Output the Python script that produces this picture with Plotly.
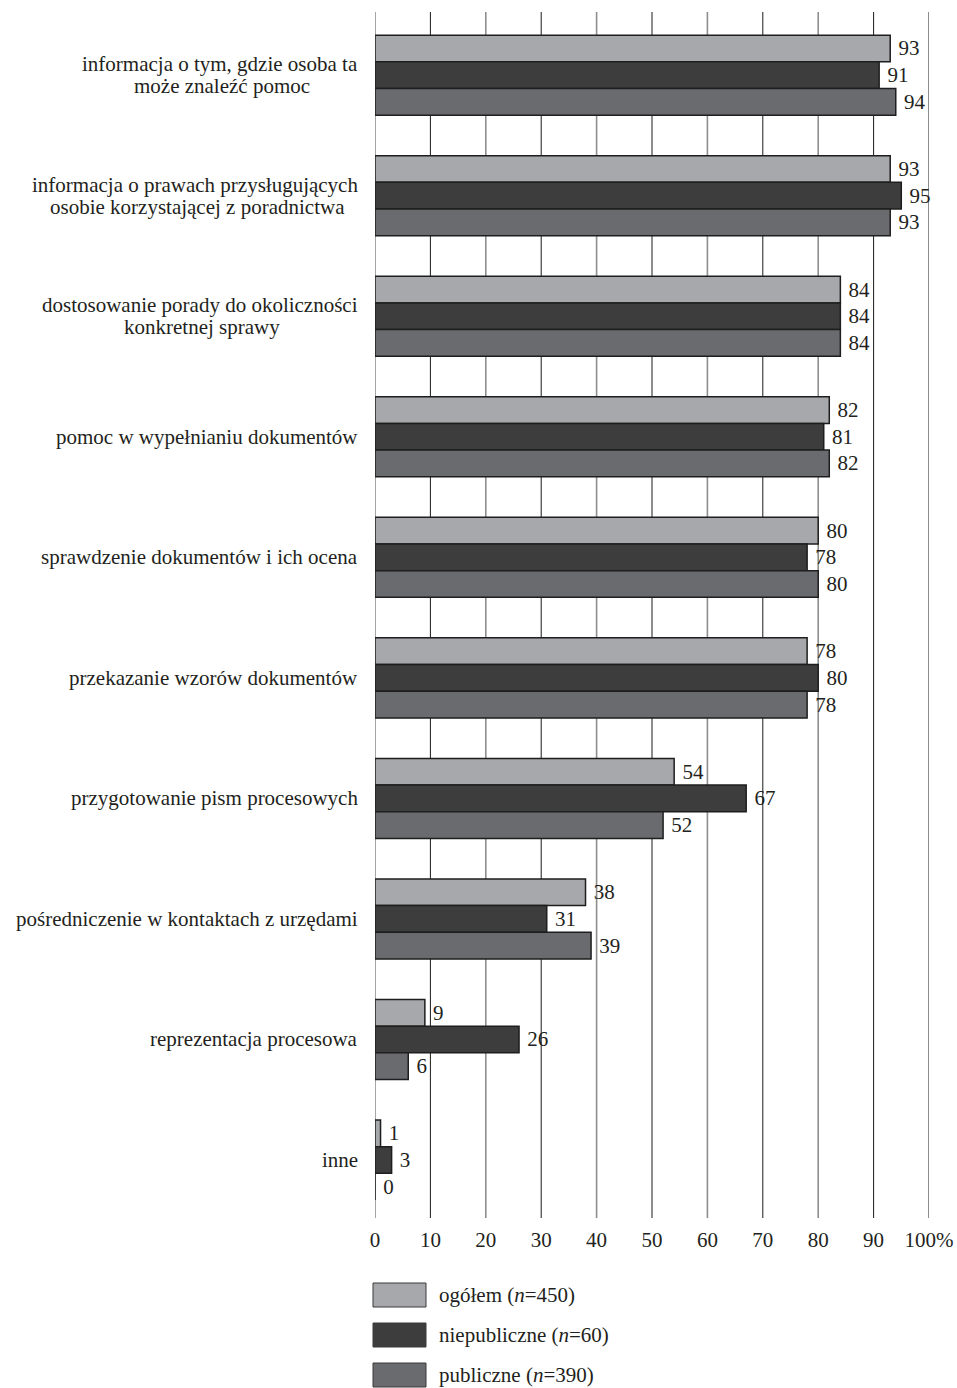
import plotly.graph_objects as go

# Survey categories (top to bottom) and shares in percent for each group of advice centres
categories = [
    "informacja o tym, gdzie osoba ta\nmoże znaleźć pomoc",
    "informacja o prawach przysługujących\nosobie korzystającej z poradnictwa",
    "dostosowanie porady do okoliczności\nkonkretnej sprawy",
    "pomoc w wypełnianiu dokumentów",
    "sprawdzenie dokumentów i ich ocena",
    "przekazanie wzorów dokumentów",
    "przygotowanie pism procesowych",
    "pośredniczenie w kontaktach z urzędami",
    "reprezentacja procesowa",
    "inne",
]
ogolem = [93, 93, 84, 82, 80, 78, 54, 38, 9, 1]
niepubliczne = [91, 95, 84, 81, 78, 80, 67, 31, 26, 3]
publiczne = [94, 93, 84, 82, 80, 78, 52, 39, 6, 0]

series_names = [
    "ogółem (<i>n</i>=450)",
    "niepubliczne (<i>n</i>=60)",
    "publiczne (<i>n</i>=390)",
]
series_values = [ogolem, niepubliczne, publiczne]
series_colors = ["#a7a8ab", "#3d3d3e", "#6a6b6f"]

tick_values = [0, 10, 20, 30, 40, 50, 60, 70, 80, 90, 100]
tick_labels = ["0", "10", "20", "30", "40", "50", "60", "70", "80", "90", "100%"]

FONT = "Liberation Serif"
FS = 21
INK = "#231f20"
OUTLINE = "#1e1e1e"

# Approximate advance widths of the serif face (units per 1000 em), used to
# centre the second line of a wrapped category label under the first one.
ADV = {
    "a": 444, "b": 500, "c": 444, "d": 500, "e": 444, "f": 333, "g": 500,
    "h": 500, "i": 278, "j": 278, "k": 500, "l": 278, "m": 778, "n": 500,
    "o": 500, "p": 500, "q": 500, "r": 333, "s": 389, "t": 278, "u": 500,
    "v": 500, "w": 722, "x": 500, "y": 500, "z": 444, " ": 250, ",": 250,
    "ą": 444, "ć": 444, "ę": 444, "ł": 278, "ń": 500, "ó": 500, "ś": 389,
    "ź": 444, "ż": 444,
}


def text_width(s, size):
    return sum(ADV.get(ch, 500) for ch in s) * size / 1000.0


fig = go.Figure()

for name, vals, color in zip(series_names, series_values, series_colors):
    fig.add_trace(
        go.Bar(
            name=name,
            y=categories,
            x=vals,
            orientation="h",
            marker=dict(color=color, line=dict(color=OUTLINE, width=1.5)),
            text=vals,
            texttemplate="\u00a0%{x}",
            textposition="outside",
            constraintext="none",
            cliponaxis=False,
            textfont=dict(family=FONT, size=FS, color=INK),
            showlegend=False,
        )
    )

# Vertical grid lines: alternating grey and black
shapes = []
for v in tick_values:
    grey = (v % 20 == 0) and v != 100
    shapes.append(
        dict(
            type="line", xref="x", yref="paper", x0=v, x1=v, y0=0, y1=1,
            line=dict(color="#8e8e8e" if grey else "#1a1a1a", width=1.6 if grey else 1),
            layer="below",
        )
    )

annotations = []
LABEL_GAP = 15
HALF_LEAD = 11
for cat in categories:
    lines = cat.split("\n")
    if len(lines) == 1:
        annotations.append(
            dict(
                text=lines[0], xref="paper", x=0, xanchor="right", xshift=-LABEL_GAP,
                yref="y", y=cat, yanchor="middle", showarrow=False,
                font=dict(family=FONT, size=FS, color=INK),
            )
        )
    else:
        w1 = text_width(lines[0], FS)
        annotations.append(
            dict(
                text=lines[0], xref="paper", x=0, xanchor="right", xshift=-LABEL_GAP,
                yref="y", y=cat, yanchor="middle", yshift=HALF_LEAD, showarrow=False,
                font=dict(family=FONT, size=FS, color=INK),
            )
        )
        annotations.append(
            dict(
                text=lines[1], xref="paper", x=0, xanchor="center",
                xshift=-LABEL_GAP - w1 / 2,
                yref="y", y=cat, yanchor="middle", yshift=-HALF_LEAD, showarrow=False,
                font=dict(family=FONT, size=FS, color=INK),
            )
        )

# Legend drawn below the chart: large swatches with labels
row_offsets = [-77, -117, -157]
for name, color, dy in zip(series_names, series_colors, row_offsets):
    shapes.append(
        dict(
            type="rect", xref="paper", yref="paper",
            xsizemode="pixel", ysizemode="pixel", xanchor=0, yanchor=0,
            x0=-2, x1=51, y0=dy + 12, y1=dy - 12,
            fillcolor=color, line=dict(color="#3a3a3a", width=1),
        )
    )
    annotations.append(
        dict(
            text=name, xref="paper", x=0, xanchor="left", xshift=62,
            yref="paper", y=0, yanchor="middle", yshift=dy, showarrow=False,
            font=dict(family=FONT, size=FS, color=INK),
        )
    )

fig.update_layout(
    width=957,
    height=1388,
    margin=dict(l=375, r=28, t=12, b=170),
    paper_bgcolor="white",
    plot_bgcolor="white",
    barmode="group",
    bargap=0.336,
    bargroupgap=0,
    font=dict(family=FONT, size=FS, color=INK),
    shapes=shapes,
    annotations=annotations,
    xaxis=dict(
        range=[0, 100],
        tickvals=tick_values,
        ticktext=tick_labels,
        showgrid=False,
        zeroline=False,
        showline=False,
        ticks="outside",
        ticklen=3,
        tickcolor="rgba(0,0,0,0)",
        tickfont=dict(family=FONT, size=FS, color=INK),
        automargin=False,
        fixedrange=True,
    ),
    yaxis=dict(
        type="category",
        range=[9.481, -0.524],
        showticklabels=False,
        showgrid=False,
        zeroline=False,
        showline=False,
        ticks="",
        automargin=False,
        fixedrange=True,
    ),
)

fig.write_html("out.html")
